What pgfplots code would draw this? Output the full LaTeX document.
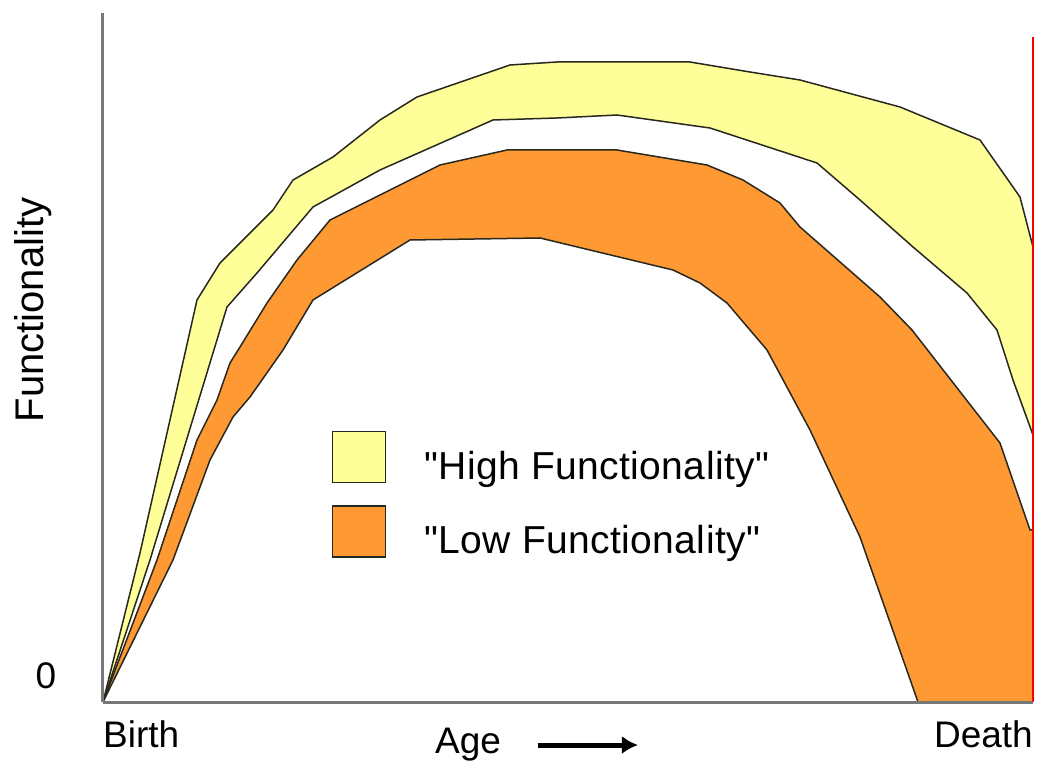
\documentclass[border=0pt]{standalone}
\usepackage{pgfplots}
\pgfplotsset{compat=1.18}
\usepackage{fontspec}
\setmainfont{Liberation Sans}[Ligatures=TeXOff]
\usetikzlibrary{arrows.meta}
\definecolor{hiyel}{RGB}{255,255,153}
\definecolor{loorg}{RGB}{255,153,51}
\definecolor{edge}{RGB}{40,40,30}
\definecolor{axgray}{RGB}{120,120,120}
\begin{document}
\begin{tikzpicture}
\path[use as bounding box] (-103bp,-67bp) rectangle (946bp,702bp);
\begin{axis}[
  at={(0,0)}, anchor=south west,
  scale only axis, width=930bp, height=689bp,
  xmin=0, xmax=930, ymin=0, ymax=689,
  axis x line=bottom, axis y line=left,
  axis line style={-, draw=axgray, line width=3bp},
  xtick=\empty, ytick=\empty,
  axis on top, clip=false,
  legend style={at={(axis cs:229,271)}, anchor=north west, draw=none, fill=none,
    inner sep=0pt, outer sep=0pt, row sep=22bp, column sep=38bp,
    font=\fontsize{39bp}{44bp}\selectfont\addfontfeature{LetterSpace=1},
    nodes={inner sep=0pt}},
  legend cell align=left,
  legend image code/.code={\draw[#1, draw=edge, line width=1.5bp] (0bp,-17bp) rectangle (53bp,34bp);},
]
% yellow band (High Functionality)
\addplot[fill=hiyel, draw=none] coordinates {
 (0,0) (37,149) (94,402) (117,439) (170,492) (190,522) (230,545) (277,582) (314,605)
 (407,637) (454,640) (587,640) (647,630) (697,622) (797,595) (877,562) (917,505) (930,455)
 (930,267) (910,322) (894,372) (864,409) (810,455) (757,502) (714,539) (607,574)
 (514,587) (454,584) (390,582) (277,532) (210,495) (154,429) (124,395) (47,142) (0,0)} -- cycle;
\addlegendentry{"High Functionality"}
% orange band (Low Functionality)
\addplot[fill=loorg, draw=none] coordinates {
 (0,0) (54,142) (94,262) (114,302) (127,339) (137,355) (164,399) (194,442) (227,482)
 (337,537) (404,552) (514,552) (604,537) (640,522) (677,499) (697,475) (777,405) (809,372)
 (897,259) (927,172) (930,172) (930,0) (815,0) (757,165) (707,272) (664,352) (624,399)
 (597,419) (570,432) (437,464) (307,462) (210,402) (180,352) (147,305) (130,285)
 (107,242) (70,142) (0,0)} -- cycle;
\addlegendentry{"Low Functionality"}
% outlines
\addplot[edge, line width=1.5bp, forget plot] coordinates {
 (0,0) (37,149) (94,402) (117,439) (170,492) (190,522) (230,545) (277,582) (314,605)
 (407,637) (454,640) (587,640) (647,630) (697,622) (797,595) (877,562) (917,505) (930,455)};
\addplot[edge, line width=1.5bp, forget plot] coordinates {
 (0,0) (47,142) (124,395) (154,429) (210,495) (277,532) (390,582) (454,584) (514,587)
 (607,574) (714,539) (757,502) (810,455) (864,409) (894,372) (910,322) (930,267)};
\addplot[edge, line width=1.5bp, forget plot] coordinates {
 (0,0) (54,142) (94,262) (114,302) (127,339) (137,355) (164,399) (194,442) (227,482)
 (337,537) (404,552) (514,552) (604,537) (640,522) (677,499) (697,475) (777,405) (809,372)
 (897,259) (927,172) (930,172)};
\addplot[edge, line width=1.5bp, forget plot] coordinates {
 (0,0) (70,142) (107,242) (130,285) (147,305) (180,352) (210,402) (307,462) (437,464)
 (570,432) (597,419) (624,399) (664,352) (707,272) (757,165) (815,0)};
% right (death) line
\addplot[red, line width=2bp, forget plot] coordinates {(930,0) (930,665)};
% labels
\node[anchor=base, inner sep=0pt, font=\fontsize{37bp}{44bp}\selectfont] at (axis cs:-57,14) {0};
\node[anchor=base west, inner sep=0pt, font=\fontsize{37bp}{44bp}\selectfont] at (axis cs:0,-45) {Birth};
\node[anchor=base east, inner sep=0pt, font=\fontsize{37bp}{44bp}\selectfont] at (axis cs:930,-45) {Death};
\node[anchor=base west, inner sep=0pt, font=\fontsize{37bp}{44bp}\selectfont] at (axis cs:332,-51) {Age};
\draw[line width=5bp, -{Latex[length=16bp,width=18bp]}] (axis cs:435,-43) -- (axis cs:535,-43);
\node[rotate=90, anchor=base, inner sep=0pt, font=\fontsize{40bp}{46bp}\selectfont] at (axis cs:-59,392) {Functionality};
\end{axis}
\end{tikzpicture}
\end{document}
